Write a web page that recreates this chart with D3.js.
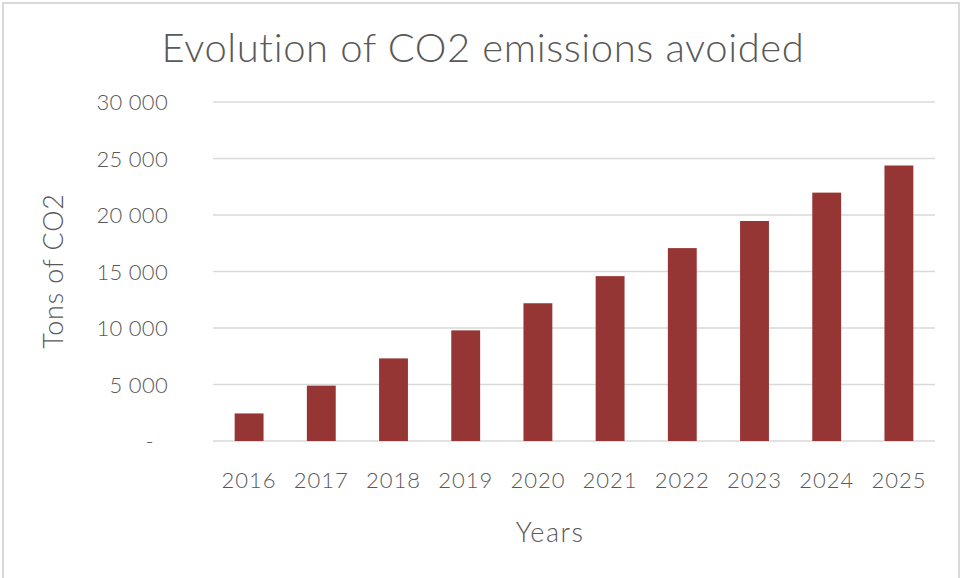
<!DOCTYPE html>
<html><head><meta charset="utf-8">
<script src="https://cdn.jsdelivr.net/npm/d3@7"></script>
<style>
html,body{margin:0;padding:0;background:#fff;}
text{font-family:"Lato","Open Sans",sans-serif;fill:#595959;}
</style></head>
<body>
<svg id="c" width="963" height="578"></svg>
<script>
const years = ["2016","2017","2018","2019","2020","2021","2022","2023","2024","2025"];
const avoided = [2440, 4900, 7310, 9790, 12190, 14590, 17070, 19470, 21980, 24380];
const yTicks = [0, 5000, 10000, 15000, 20000, 25000, 30000];
const titleText = "Evolution of CO2 emissions avoided";
const xTitle = "Years";
const yTitle = "Tons of CO2";

const svg = d3.select("#c");
svg.append("rect").attr("x",3).attr("y",3).attr("width",956).attr("height",590)
  .attr("fill","#fff").attr("stroke","#d9d9d9").attr("stroke-width",2);

const m = {left:213, right:935, top:102, bottom:441};
const x = d3.scaleBand().domain(years).range([m.left, m.right]).paddingInner(0.6).paddingOuter(0.3);
const y = d3.scaleLinear().domain([0,30000]).range([m.bottom, m.top]);

const fmt = v => v === 0 ? "-" : d3.format(",")(v).replace(/,/g, " ");

// grid
svg.append("g").selectAll("line").data(yTicks).join("line")
  .attr("x1", m.left).attr("x2", m.right)
  .attr("y1", d => y(d)).attr("y2", d => y(d))
  .attr("stroke", "#d9d9d9").attr("stroke-width", 1.3);

// y axis labels
const yAxis = d3.axisLeft(y).tickValues(yTicks).tickFormat(fmt).tickSize(0).tickPadding(0);
const gy = svg.append("g").attr("transform", "translate(168,0)").call(yAxis);
gy.select(".domain").remove();
gy.selectAll("text").style("font-size","22px").style("font-weight","300")
  .style("letter-spacing","0.3px").attr("fill","#595959").attr("dy","0.36em")
  .attr("dx", d => d === 0 ? -14 : 0);

// bars
svg.append("g").selectAll("rect").data(years).join("rect")
  .attr("x", d => x(d)).attr("width", x.bandwidth())
  .attr("y", (d,i) => y(avoided[i])).attr("height", (d,i) => y(0) - y(avoided[i]))
  .attr("fill", "#963634");

// x axis labels
const xAxis = d3.axisBottom(x).tickSize(0).tickPadding(0);
const gx = svg.append("g").attr("transform", "translate(0,488)").call(xAxis);
gx.select(".domain").remove();
gx.selectAll("text").style("font-size","22px").style("font-weight","300")
  .style("letter-spacing","1px").attr("fill","#595959").attr("y",0).attr("dy","0");

// titles
svg.append("text").attr("x", 483).attr("y", 62).attr("text-anchor","middle")
  .style("font-size","40px").style("font-weight","300").style("letter-spacing","0.6px").text(titleText);
svg.append("text").attr("x", 550).attr("y", 542).attr("text-anchor","middle")
  .style("font-size","27px").style("font-weight","300").style("letter-spacing","1.5px").text(xTitle);
svg.append("text").attr("transform","translate(63,271) rotate(-90)").attr("text-anchor","middle")
  .style("font-size","27px").style("font-weight","300").style("letter-spacing","0.8px").text(yTitle);
</script>
</body></html>
